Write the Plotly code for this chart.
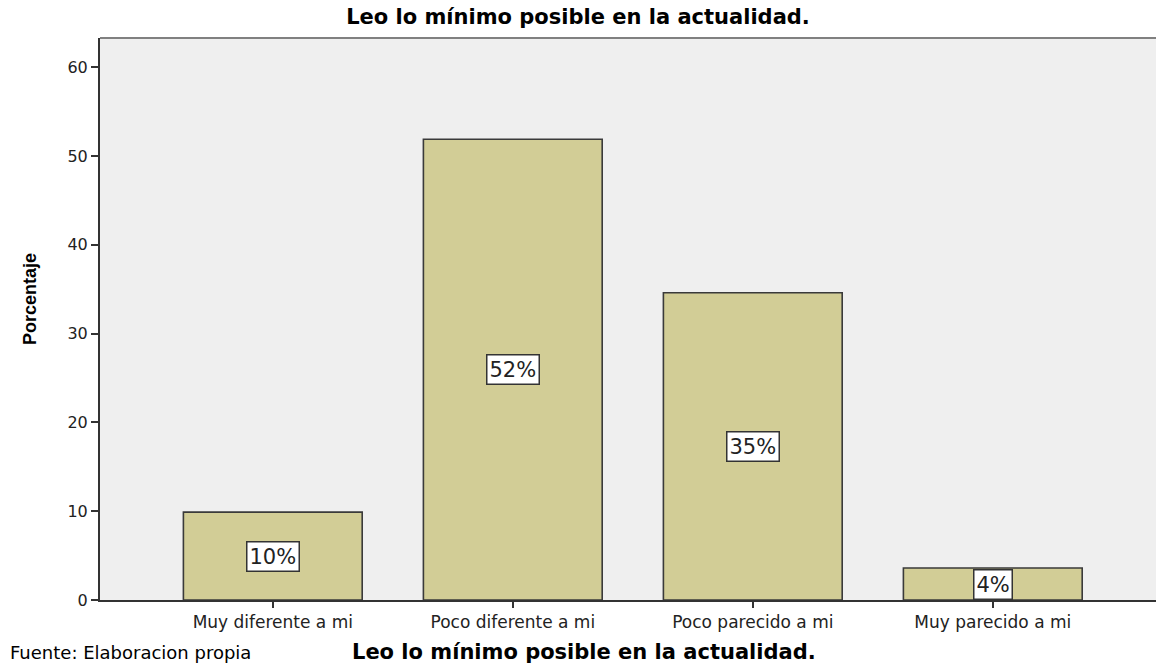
"""Bar chart: Leo lo mínimo posible en la actualidad."""
import plotly.graph_objects as go

categories = ["Muy diferente a mi", "Poco diferente a mi", "Poco parecido a mi", "Muy parecido a mi"]
percentages = [9.9, 51.9, 34.6, 3.6]
y_ticks = [0, 10, 20, 30, 40, 50, 60]

title_text = "Leo lo mínimo posible en la actualidad."
source_text = "Fuente: Elaboracion propia"

W, H = 1156, 663
plot_top, plot_bottom = 38, 600

fig = go.Figure(
    go.Bar(
        x=categories,
        y=percentages,
        width=0.745,
        marker=dict(color="#D2CD96", line=dict(color="#3a3a3a", width=1.6)),
        hoverinfo="x+y",
        showlegend=False,
    )
)

# value boxes in the middle of each bar
for cat, val in zip(categories, percentages):
    fig.add_annotation(
        x=cat, y=val / 2, text=f"{round(val)}%", showarrow=False,
        font=dict(family="DejaVu Sans", size=21, color="#222"),
        bgcolor="white", bordercolor="#333", borderwidth=1.5, borderpad=2,
    )

below = -(652 - plot_bottom) / (plot_bottom - plot_top)
fig.add_annotation(
    x=(584 - 100) / (W - 100), y=below, xref="paper", yref="paper",
    xanchor="center", yanchor="middle",
    text=f"<b>{title_text}</b>", showarrow=False,
    font=dict(family="DejaVu Sans", size=21, color="black"),
)
fig.add_annotation(
    x=-92 / (W - 100), y=below, xref="paper", yref="paper",
    xanchor="left", yanchor="middle",
    text=source_text, showarrow=False,
    font=dict(family="DejaVu Sans", size=18, color="black"),
)
fig.add_annotation(
    x=-70 / (W - 100), y=(plot_bottom - 299) / (plot_bottom - plot_top),
    xref="paper", yref="paper", xanchor="center", yanchor="middle", textangle=-90,
    text="<b>Porcentaje</b>", showarrow=False,
    font=dict(family="Liberation Sans Narrow, Arial Narrow, Liberation Sans", size=18, color="black"),
)
# gray frame line on top of the plot area
fig.add_shape(type="line", xref="paper", yref="paper", x0=0, x1=1, y0=1, y1=1,
              line=dict(color="#808080", width=2))

fig.update_layout(
    width=W, height=H,
    paper_bgcolor="white", plot_bgcolor="#EFEFEF",
    margin=dict(l=100, r=0, t=plot_top, b=H - plot_bottom),
    title=dict(text=f"<b>{title_text}</b>", x=0.5, xanchor="center", y=1 - 17 / H, yanchor="middle",
               font=dict(family="DejaVu Sans", size=21, color="black")),
)
fig.update_xaxes(
    range=[-0.72, 3.68],
    showline=True, linecolor="#333", linewidth=2,
    ticks="outside", ticklen=6, tickwidth=2, tickcolor="#333",
    tickfont=dict(family="DejaVu Sans", size=17, color="#222"),
    showgrid=False, zeroline=False,
)
fig.update_yaxes(
    range=[0, 63.3], tickvals=y_ticks,
    showline=True, linecolor="#333", linewidth=2,
    ticks="outside", ticklen=7, tickwidth=2, tickcolor="#333",
    tickfont=dict(family="DejaVu Sans", size=16, color="#222"),
    showgrid=False, zeroline=False,
)

fig.write_html("out.html", config={"displayModeBar": False},
               post_script="document.body.style.margin='0';")
